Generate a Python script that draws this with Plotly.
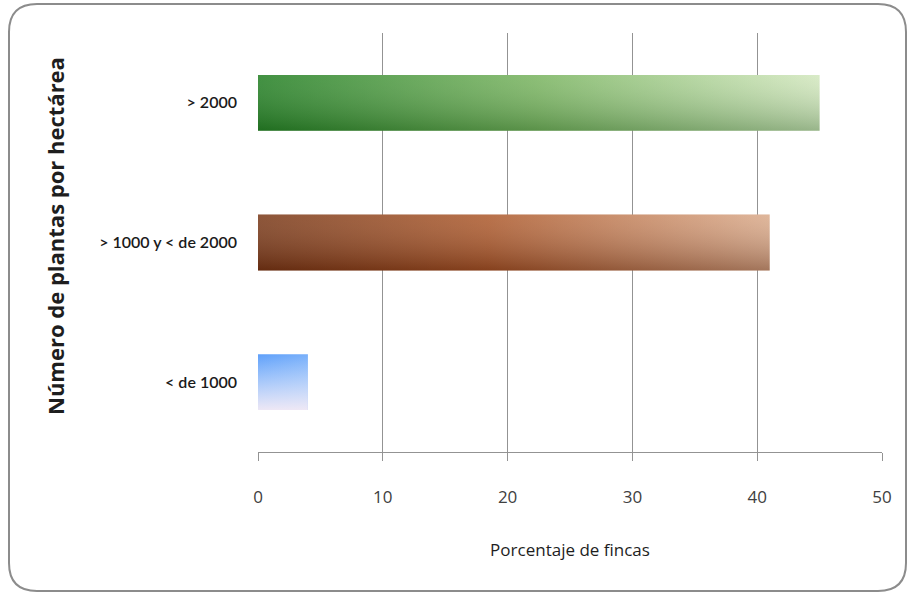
import plotly.graph_objects as go

# Share of farms by planting density
categories = ["< de 1000", "> 1000 y < de 2000", "> 2000"]
values = [4, 41, 45]
x_ticks = [0, 10, 20, 30, 40, 50]

# Gradient colours per bar: (left -> right), and vertical shading (bottom -> top)
h_grads = [
    [[0, "rgb(95,160,250)"], [1, "rgb(120,175,250)"]],
    [[0, "rgb(120,55,22)"], [0.45, "rgb(172,88,42)"], [1, "rgb(218,170,138)"]],
    [[0, "rgb(40,130,40)"], [0.5, "rgb(125,182,100)"], [1, "rgb(212,232,192)"]],
]
v_grads = [
    [[0, "rgba(245,235,245,0.95)"], [1, "rgba(255,255,255,0)"]],
    [[0, "rgba(60,20,5,0.35)"], [1, "rgba(255,255,255,0.15)"]],
    [[0, "rgba(10,60,10,0.30)"], [1, "rgba(255,255,255,0.12)"]],
]

W, H = 910, 594
L, R, T, B = 258, 28, 33, 142
half = 0.2

fig = go.Figure()
for i, (cat, v) in enumerate(zip(categories, values)):
    xs = [0, v, v, 0, 0]
    ys = [i - half, i - half, i + half, i + half, i - half]
    fig.add_trace(go.Scatter(
        x=xs, y=ys, mode="lines", fill="toself", line=dict(width=0),
        fillgradient=dict(type="horizontal", colorscale=h_grads[i]),
        hoverinfo="skip", showlegend=False,
    ))
    fig.add_trace(go.Scatter(
        x=xs, y=ys, mode="lines", fill="toself", line=dict(width=0),
        fillgradient=dict(type="vertical", colorscale=v_grads[i]),
        hoverinfo="text", text=f"{cat}: {v}%", showlegend=False,
    ))

# Rounded frame around the chart, built in pixels and mapped to paper coords
pw, ph = W - L - R, H - T - B
def px(x):
    return (x - L) / pw
def py(y):
    return (H - B - y) / ph

x0, x1, y0, y1, r = 9, 906, 4, 591, 28
path = (
    f"M {px(x0 + r)},{py(y0)} L {px(x1 - r)},{py(y0)} "
    f"Q {px(x1)},{py(y0)} {px(x1)},{py(y0 + r)} "
    f"L {px(x1)},{py(y1 - r)} Q {px(x1)},{py(y1)} {px(x1 - r)},{py(y1)} "
    f"L {px(x0 + r)},{py(y1)} Q {px(x0)},{py(y1)} {px(x0)},{py(y1 - r)} "
    f"L {px(x0)},{py(y0 + r)} Q {px(x0)},{py(y0)} {px(x0 + r)},{py(y0)} Z"
)

fig.update_layout(
    width=W, height=H,
    margin=dict(l=L, r=R, t=T, b=B),
    paper_bgcolor="white", plot_bgcolor="white",
    font=dict(family="Open Sans, sans-serif", color="#333333"),
    shapes=[dict(type="path", xref="paper", yref="paper", path=path,
                 line=dict(color="#8c8c8c", width=2), layer="below")],
    annotations=[dict(
        text="<b>Número de plantas por hectárea</b>", textangle=-90,
        xref="paper", yref="paper", x=px(55), y=py(236),
        xanchor="center", yanchor="middle", showarrow=False,
        font=dict(size=22, color="#1e1e1e", family="Open Sans, sans-serif"),
    )],
    xaxis=dict(
        range=[0, 50], tickvals=x_ticks, ticktext=[str(t) for t in x_ticks],
        showgrid=True, gridcolor="#939393", gridwidth=1,
        showline=True, linecolor="#939393", linewidth=1,
        ticks="outside", ticklen=8, tickcolor="#939393",
        ticklabelstandoff=22,
        tickfont=dict(size=17, color="#404040", family="Open Sans, sans-serif"),
        zeroline=False, fixedrange=True,
        title=dict(text="Porcentaje de fincas", standoff=36,
                   font=dict(size=17, color="#1e1e1e", family="Open Sans, sans-serif")),
    ),
    yaxis=dict(
        range=[-0.5, 2.5], tickvals=[0, 1, 2], ticktext=categories,
        showgrid=False, zeroline=False, showline=False, ticks="",
        tickfont=dict(size=16, color="#1a1a1a", family="Lato, sans-serif",
                      weight=600),
        ticklabelstandoff=20, fixedrange=True,
    ),
)

fig.write_html("out.html")
